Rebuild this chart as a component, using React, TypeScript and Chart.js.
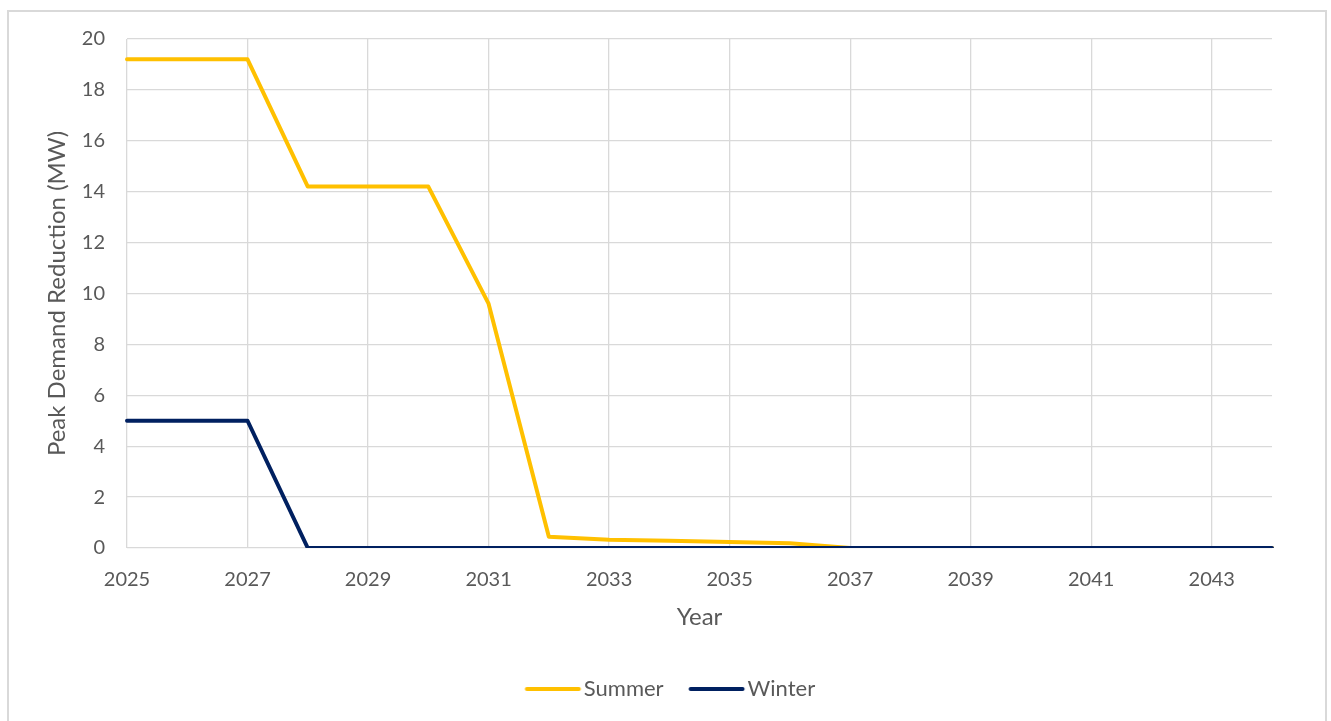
import React, { useEffect, useRef } from "react";
import { Chart, registerables } from "chart.js";

Chart.register(...registerables);

const years = [
  "2025", "2026", "2027", "2028", "2029", "2030", "2031", "2032", "2033", "2034",
  "2035", "2036", "2037", "2038", "2039", "2040", "2041", "2042", "2043", "2044",
];
const summer = [19.2, 19.2, 19.2, 14.2, 14.2, 14.2, 9.6, 0.44, 0.32, 0.28, 0.24, 0.19, 0, 0, 0, 0, 0, 0, 0, 0];
const winter = [5, 5, 5, 0, 0, 0, 0, 0, 0, 0, 0, 0, 0, 0, 0, 0, 0, 0, 0, 0];
const yTicks = [0, 2, 4, 6, 8, 10, 12, 14, 16, 18, 20];

const FONT = "Lato, 'Open Sans', sans-serif";
const TEXT = "#595959";
const GRID = "#d9d9d9";
const SUMMER_COLOR = "#FFC000";
const WINTER_COLOR = "#002060";

// legend marker: a 52px line drawn inside a wider transparent image
function legendLine(color: string): HTMLCanvasElement {
  const c = document.createElement("canvas");
  c.width = 82;
  c.height = 10;
  const g = c.getContext("2d")!;
  g.strokeStyle = color;
  g.lineWidth = 4;
  g.lineCap = "round";
  g.beginPath();
  g.moveTo(26.5, 5);
  g.lineTo(78.5, 5);
  g.stroke();
  return c;
}

export default function App() {
  const ref = useRef<HTMLCanvasElement | null>(null);

  useEffect(() => {
    if (!ref.current) return;
    const chart = new Chart(ref.current, {
      type: "line",
      data: {
        labels: years,
        datasets: [
          {
            label: "Summer",
            data: summer,
            borderColor: SUMMER_COLOR,
            backgroundColor: SUMMER_COLOR,
            borderWidth: 4,
            pointRadius: 0,
            pointStyle: legendLine(SUMMER_COLOR) as any,
            borderJoinStyle: "round",
            borderCapStyle: "round",
            order: 1,
          },
          {
            label: "Winter",
            data: winter,
            borderColor: WINTER_COLOR,
            backgroundColor: WINTER_COLOR,
            borderWidth: 4,
            pointRadius: 0,
            pointStyle: legendLine(WINTER_COLOR) as any,
            borderJoinStyle: "round",
            borderCapStyle: "round",
            order: 0,
          },
        ],
      },
      options: {
        responsive: false,
        animation: false,
        layout: { padding: { left: 0, right: 6, top: 39, bottom: 11 } },
        plugins: {
          tooltip: { enabled: false },
          legend: {
            position: "bottom",
            labels: {
              usePointStyle: true,
              pointStyleWidth: 63,
              color: TEXT,
              font: { family: FONT, size: 22 },
              padding: 10,
              sort: (a: any, b: any) => a.datasetIndex - b.datasetIndex,
            },
          },
        },
        scales: {
          x: {
            offset: false,
            grid: {
              color: (ctx: any) => (ctx.index % 2 === 0 ? GRID : "rgba(0,0,0,0)"),
              lineWidth: 1.3,
              drawTicks: false,
            },
            border: { display: false },
            ticks: {
              autoSkip: false,
              maxRotation: 0,
              padding: 20,
              color: TEXT,
              font: { family: FONT, size: 20 },
              callback: (_v: any, i: number) => (i % 2 === 0 ? years[i] : ""),
            },
            title: {
              display: true,
              text: "Year",
              color: TEXT,
              font: { family: FONT, size: 24 },
              padding: { top: 0, bottom: 36 },
            },
            afterFit: (s: any) => {
              s.height = 120;
            },
          },
          y: {
            min: 0,
            max: 20,
            afterBuildTicks: (s: any) => {
              s.ticks = yTicks.map((v) => ({ value: v }));
            },
            grid: { color: GRID, lineWidth: 1.3, drawTicks: false },
            border: { display: false },
            ticks: {
              padding: 22,
              color: TEXT,
              font: { family: FONT, size: 20 },
            },
            title: {
              display: true,
              text: "Peak Demand Reduction (MW)",
              color: TEXT,
              font: { family: FONT, size: 24 },
              padding: { top: 43, bottom: 0 },
            },
            afterFit: (s: any) => {
              s.width = 127;
            },
          },
          yRightSpace: {
            position: "right",
            display: true,
            min: 0,
            max: 1,
            grid: { display: false, drawTicks: false },
            border: { display: false },
            ticks: { display: false },
            afterFit: (s: any) => {
              s.width = 53;
            },
          },
        },
      },
    });
    return () => chart.destroy();
  }, []);

  return (
    <div style={{ position: "fixed", left: 0, top: 0, width: 1331, height: 721, overflow: "hidden", background: "#fff" }}>
      <div
        style={{
          position: "absolute",
          left: 7,
          top: 10,
          width: 1320,
          height: 720,
          border: `2px solid ${GRID}`,
          boxSizing: "border-box",
        }}
      />
      <canvas ref={ref} width={1331} height={721} style={{ position: "absolute", left: 0, top: 0, display: "block" }} />
    </div>
  );
}
